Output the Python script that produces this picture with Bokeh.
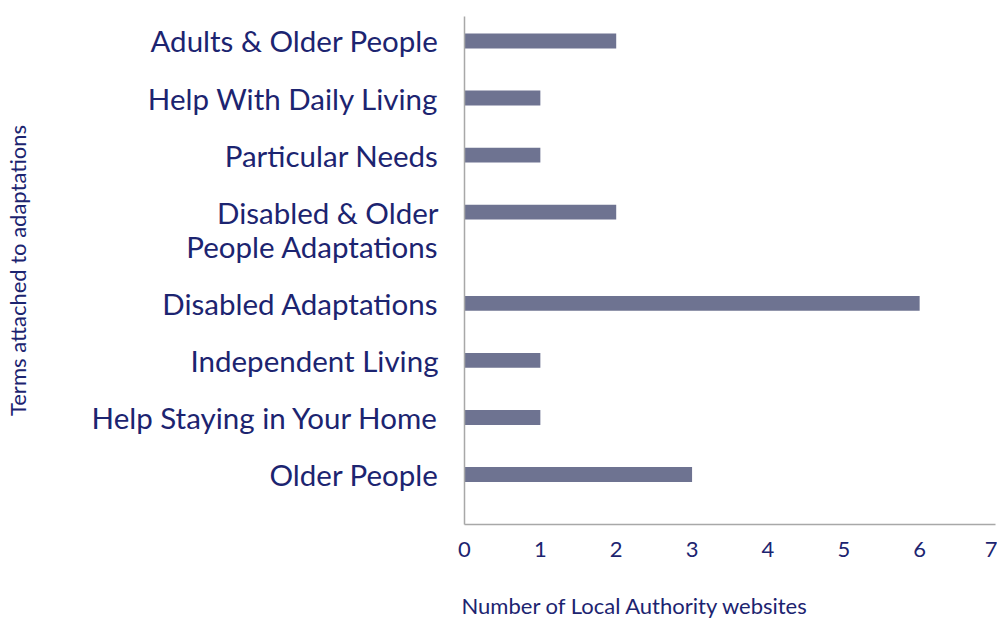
from bokeh.plotting import figure
from bokeh.models import Range1d, FixedTicker, ColumnDataSource, Title
from bokeh.embed import file_html
from bokeh.resources import INLINE

# ---- data ----
categories = [
    "Adults & Older People",
    "Help With Daily Living",
    "Particular Needs",
    "Disabled & Older\nPeople Adaptations",
    "Disabled Adaptations",
    "Independent Living",
    "Help Staying in Your Home",
    "Older People",
]
counts = [2, 1, 1, 2, 6, 1, 1, 3]
x_ticks = [0, 1, 2, 3, 4, 5, 6, 7]
x_title = "Number of Local Authority websites"
y_title = "Terms attached to adaptations"

# ---- styles ----
NAVY = "#1c2470"
BAR = "#6e7391"
AXIS = "#a8a8a8"
FONT = "Lato"
LINE_GAP = 0.6  # extra band space per wrapped label line

# category positions (top to bottom), wrapped labels take extra room
positions, tick_pos, tick_text = [], [], {}
cur = 0.0
for cat in categories:
    lines = cat.split("\n")
    positions.append(round(cur, 3))
    for j, ln in enumerate(lines):
        t = round(cur + j * LINE_GAP, 3)
        tick_pos.append(t)
        tick_text[t] = ln
    cur += 1 + LINE_GAP * (len(lines) - 1)

src = ColumnDataSource(dict(y=positions, count=counts, name=categories))

p = figure(
    width=997, height=619,
    x_range=Range1d(0, 7),
    y_range=Range1d(start=positions[-1] + 0.876, end=positions[0] - 0.429),
    output_backend="svg", toolbar_location=None,
    min_border_left=464, min_border_right=2, min_border_top=16, min_border_bottom=95,
)
p.outline_line_color = None
p.xgrid.grid_line_color = None
p.ygrid.grid_line_color = None
p.background_fill_color = "white"
p.border_fill_color = "white"

p.hbar(y="y", right="count", left=0, height=0.26, source=src,
       fill_color=BAR, line_color=None)

# y axis
ya = p.yaxis[0]
ya.ticker = FixedTicker(ticks=tick_pos)
ya.major_label_overrides = tick_text
ya.major_label_text_font = FONT
ya.major_label_text_font_size = "29.5px"
ya.major_label_text_color = NAVY
ya.major_label_standoff = 26
ya.major_tick_in = 0
ya.major_tick_out = 0
ya.minor_tick_in = 0
ya.minor_tick_out = 0
ya.major_tick_line_color = None
ya.minor_tick_line_color = None
ya.axis_line_color = AXIS
ya.axis_line_width = 1.5
ya.axis_label = y_title
ya.axis_label_text_font = FONT
ya.axis_label_text_font_size = "22px"
ya.axis_label_text_font_style = "normal"
ya.axis_label_text_color = NAVY
ya.axis_label_standoff = 58

# x axis
xa = p.xaxis[0]
xa.ticker = FixedTicker(ticks=x_ticks)
xa.major_label_text_font = FONT
xa.major_label_text_font_size = "22px"
xa.major_label_text_color = NAVY
xa.major_label_standoff = 17
xa.major_tick_in = 0
xa.major_tick_out = 0
xa.minor_tick_in = 0
xa.minor_tick_out = 0
xa.major_tick_line_color = None
xa.minor_tick_line_color = None
xa.axis_line_color = AXIS
xa.axis_line_width = 1.5
# blank spacer label: pushes the title panel down below the tick labels
xa.axis_label = " "
xa.axis_label_text_font_size = "1px"
xa.axis_label_standoff = 26

# x-axis title, left-aligned at the frame's left edge (as in the original)
t = Title(text=x_title, align="left", offset=-3, standoff=0, vertical_align="bottom",
          text_font=FONT, text_font_size="22px", text_font_style="normal",
          text_color=NAVY)
p.add_layout(t, "below")

open("out.html", "w").write(file_html(p, INLINE))
